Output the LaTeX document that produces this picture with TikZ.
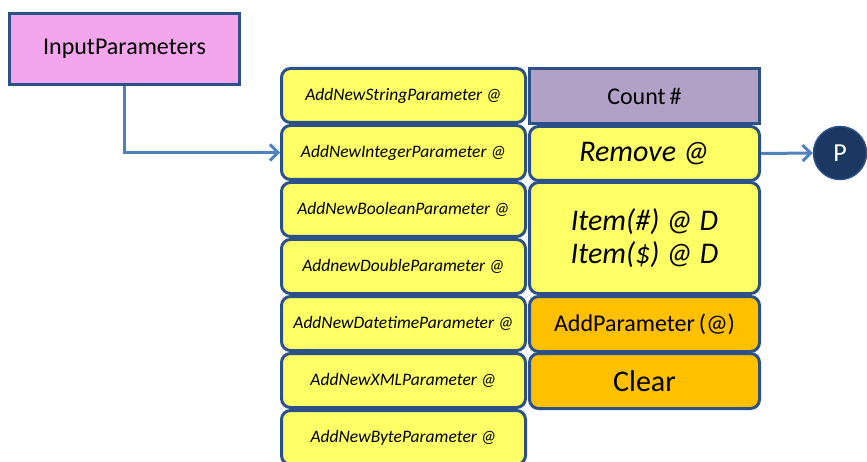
\documentclass[tikz,border=0pt]{standalone}
\usepackage{fontspec}
\setmainfont{Carlito}
\usepackage{xcolor}
\usetikzlibrary{arrows.meta}

\definecolor{edgeblue}{HTML}{2B5188}
\definecolor{linkblue}{HTML}{4F81BD}
\definecolor{pinkbox}{HTML}{F4A6EC}
\definecolor{yellowbox}{HTML}{FFFF66}
\definecolor{orangebox}{HTML}{FFC000}
\definecolor{lilacbox}{HTML}{B2A1C7}
\definecolor{navy}{HTML}{1B3862}

\tikzset{
  cell/.style={draw=edgeblue, line width=3pt, anchor=north west, inner sep=0pt,
               text=black, align=center},
  param/.style={cell, fill=yellowbox, rounded corners=9pt, minimum width=244pt,
                minimum height=54pt, font=\itshape\fontsize{17.5}{21}\selectfont},
  method/.style={cell, rounded corners=9pt, minimum width=230pt, minimum height=54pt},
  link/.style={draw=linkblue, line width=3pt, -{Straight Barb[length=8pt,width=16pt]}}
}

\begin{document}
\begin{tikzpicture}[x=1pt,y=-1pt]
  \useasboundingbox (0,0) rectangle (867,462);
  \clip (0,0) rectangle (867,462);

  % source object
  \node[cell, fill=pinkbox, minimum width=230pt, minimum height=71pt,
        font=\fontsize{24}{28}\selectfont] (input) at (8,12) {InputParameters};

  % left column: the AddNew... methods
  \node[param] (string)   at (280,67)  {AddNewStringParameter @};
  \node[param] (integer)  at (280,124) {AddNewIntegerParameter @};
  \node[param] (boolean)  at (280,181) {AddNewBooleanParameter @};
  \node[param] (double)   at (280,238) {AddnewDoubleParameter @};
  \node[param] (datetime) at (280,295) {AddNewDatetimeParameter @};
  \node[param] (xml)      at (280,352) {AddNewXMLParameter @};
  \node[param] (byte)     at (280,409) {AddNewByteParameter @};

  % right column
  \node[cell, fill=lilacbox, minimum width=230pt, minimum height=55pt,
        font=\fontsize{24}{28}\selectfont] (count) at (528,67) {Count\,\#};
  \node[method, fill=yellowbox, font=\itshape\fontsize{30}{34}\selectfont]
        (remove) at (528,125) {Remove @};
  \node[method, fill=yellowbox, minimum height=111pt, font=\itshape\fontsize{30}{33}\selectfont]
        (item) at (528,181) {Item(\#) @ D\\Item(\$) @ D};
  \node[method, fill=orangebox, minimum height=55pt, font=\fontsize{24}{28}\selectfont]
        (addparam) at (528,295) {AddParameter\,(@)};
  \node[method, fill=orangebox, minimum height=55pt, font=\fontsize{30}{34}\selectfont]
        (clear) at (528,352) {Clear};

  % returned parameter
  \node[circle, draw=edgeblue, line width=1.5pt, fill=navy, minimum size=53pt, inner sep=0pt,
        text=white, font=\fontsize{26}{30}\selectfont] (pnode) at (840,153) {P};

  \draw[link] (input.south) |- (integer.west);
  \draw[link] (remove.east) -- (pnode.west);
\end{tikzpicture}
\end{document}
